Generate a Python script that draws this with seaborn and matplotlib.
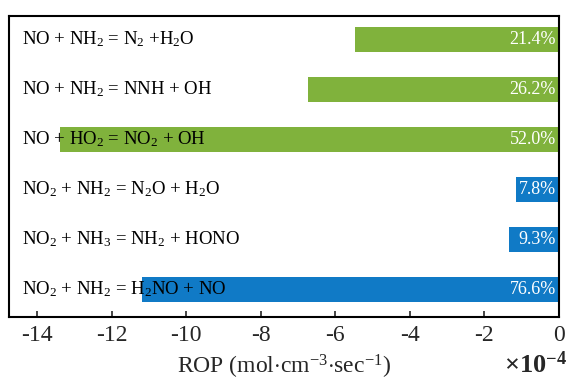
import matplotlib

matplotlib.use("Agg")
import matplotlib.pyplot as plt
import matplotlib.transforms as mtransforms
import seaborn as sns

# ROP values in units of 1e-4 mol/(cm3 s)
reactions = [
    r"NO + NH$_2$ = N$_2$ +H$_2$O",
    r"NO + NH$_2$ = NNH + OH",
    r"NO + HO$_2$ = NO$_2$ + OH",
    r"NO$_2$ + NH$_2$ = N$_2$O + H$_2$O",
    r"NO$_2$ + NH$_3$ = NH$_2$ + HONO",
    r"NO$_2$ + NH$_2$ = H$_2$NO + NO",
]
rop = [-5.47, -6.73, -13.38, -1.15, -1.35, -11.18]
shares = ["21.4%", "26.2%", "52.0%", "7.8%", "9.3%", "76.6%"]
group = ["NO", "NO", "NO", "NO2", "NO2", "NO2"]
colors = {"NO": "#80b23c", "NO2": "#107ac6"}

sns.set_style("white")
plt.rcParams["font.family"] = ["Liberation Serif", "DejaVu Serif"]
plt.rcParams["mathtext.fontset"] = "custom"
plt.rcParams["mathtext.rm"] = "Liberation Serif"
plt.rcParams["mathtext.it"] = "Liberation Serif:italic"
plt.rcParams["mathtext.bf"] = "Liberation Serif:bold"
plt.rcParams["axes.unicode_minus"] = False

fig = plt.figure(figsize=(5.71, 3.81), dpi=100)
ax = fig.add_axes([0.0158, 0.168, 0.963, 0.79])

keys = [f"r{i}" for i in range(len(reactions))]
sns.barplot(x=rop, y=keys, hue=group, palette=colors, dodge=False,
            width=0.5, linewidth=0, saturation=1, legend=False, ax=ax)

ax.set_xlim(-14.75, 0)
ax.set_ylim(5.56, -0.47)
ax.set_xticks(range(-14, 1, 2))
ax.set_yticks([])
ax.set_ylabel("")
ax.tick_params(axis="x", direction="in", length=4, width=1.2,
               labelsize=17, pad=6, bottom=True)
for sp in ax.spines.values():
    sp.set_visible(True)
    sp.set_color("black")
    sp.set_linewidth(1.5)

trans = mtransforms.blended_transform_factory(ax.transAxes, ax.transData)
for i, (lab, pct) in enumerate(zip(reactions, shares)):
    ax.text(0.0236, i, lab, transform=trans, ha="left", va="center",
            fontsize=13.5, color="black")
    ax.annotate(pct, (0, i), xytext=(-2, 0), textcoords="offset points",
                ha="right", va="center", fontsize=13, color="white")

ax.set_xlabel(r"ROP (mol$\cdot$cm$^{-3}$$\cdot$sec$^{-1}$)", fontsize=17,
              labelpad=5)
fig.text(0.993, 0.02, r"$\mathbf{\times 10^{-4}}$", ha="right", va="baseline",
         fontsize=19)

fig.savefig("out.png", dpi=100, facecolor="white")
